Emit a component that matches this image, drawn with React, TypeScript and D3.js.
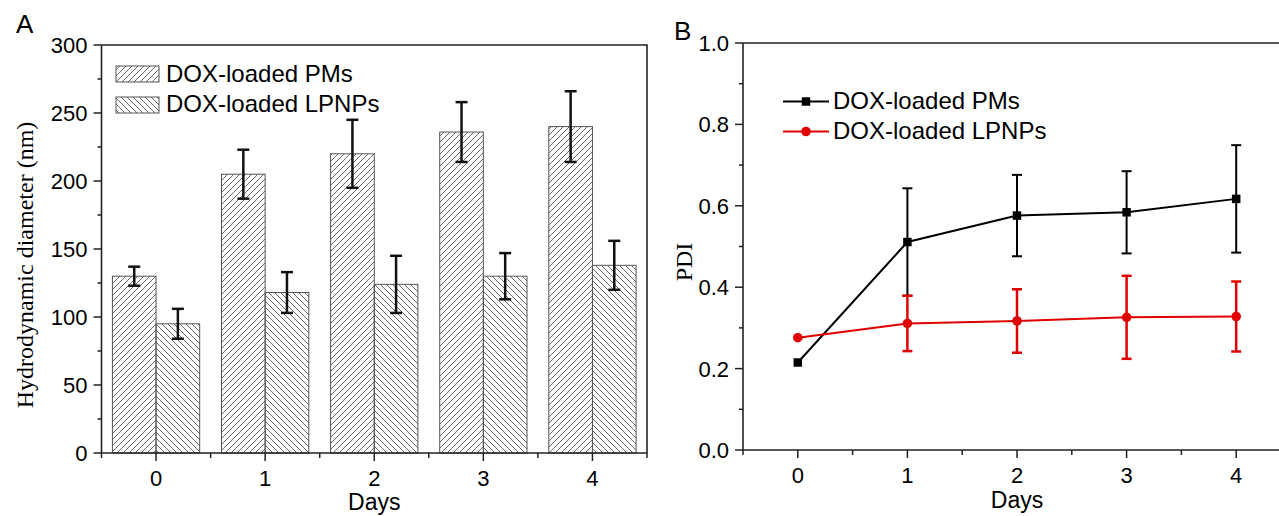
import React, { useEffect, useRef } from "react";
import * as d3 from "d3";

// data
const days = [0, 1, 2, 3, 4];
const pmSize = [130, 205, 220, 236, 240];
const pmSizeErr = [7, 18, 25, 22, 26];
const lpnpSize = [95, 118, 124, 130, 138];
const lpnpSizeErr = [11, 15, 21, 17, 18];

const pmPdi = [0.215, 0.511, 0.576, 0.584, 0.617];
const pmPdiErr = [0, 0.132, 0.1, 0.101, 0.132];
const lpnpPdi = [0.276, 0.311, 0.317, 0.326, 0.328];
const lpnpPdiErr = [0, 0.068, 0.078, 0.102, 0.086];

const seriesNames = ["DOX-loaded PMs", "DOX-loaded LPNPs"];
const sizeTicks = [0, 50, 100, 150, 200, 250, 300];
const pdiTicks = [0, 0.2, 0.4, 0.6, 0.8, 1.0];

const W = 1279,
  H = 516;
const SANS = "'Liberation Sans', Arial, sans-serif";
const SERIF = "'Liberation Serif', 'Times New Roman', serif";
const AXIS = "#222";

function drawAxes(svg, x, y, yMajor, yMinor, fmt, rightEdge) {
  const [x0] = x.range();
  const [y0, y1] = y.range();
  const g = svg.append("g");

  // frame
  g.append("path")
    .attr("d", `M${x0},${y1} L${x0},${y0} L${rightEdge},${y0} M${x0},${y1} L${rightEdge},${y1} L${rightEdge},${y0}`)
    .attr("fill", "none")
    .attr("stroke", AXIS)
    .attr("stroke-width", 1.6);

  // y ticks
  g.selectAll(".ymaj")
    .data(yMajor)
    .join("line")
    .attr("x1", x0 - 8)
    .attr("x2", x0)
    .attr("y1", (d) => y(d))
    .attr("y2", (d) => y(d))
    .attr("stroke", AXIS)
    .attr("stroke-width", 1.5);
  g.selectAll(".ymin")
    .data(yMinor)
    .join("line")
    .attr("x1", x0 - 4)
    .attr("x2", x0)
    .attr("y1", (d) => y(d))
    .attr("y2", (d) => y(d))
    .attr("stroke", AXIS)
    .attr("stroke-width", 1.5);
  g.selectAll(".ylab")
    .data(yMajor)
    .join("text")
    .attr("x", x0 - 14)
    .attr("y", (d) => y(d))
    .attr("dy", "0.36em")
    .attr("text-anchor", "end")
    .style("font-family", SANS)
    .style("font-size", "22px")
    .text(fmt);

  // x ticks
  const xMinor = [-0.5, 0.5, 1.5, 2.5, 3.5, 4.5];
  g.selectAll(".xmaj")
    .data(days)
    .join("line")
    .attr("x1", (d) => x(d))
    .attr("x2", (d) => x(d))
    .attr("y1", y0)
    .attr("y2", y0 + 8)
    .attr("stroke", AXIS)
    .attr("stroke-width", 1.5);
  g.selectAll(".xmin")
    .data(xMinor.filter((d) => x(d) <= W))
    .join("line")
    .attr("x1", (d) => x(d))
    .attr("x2", (d) => x(d))
    .attr("y1", y0)
    .attr("y2", y0 + 5)
    .attr("stroke", AXIS)
    .attr("stroke-width", 1.5);
  g.selectAll(".xlab")
    .data(days)
    .join("text")
    .attr("x", (d) => x(d))
    .attr("y", y0 + 33)
    .attr("text-anchor", "middle")
    .style("font-family", SANS)
    .style("font-size", "22px")
    .text((d) => d);
}

export default function App() {
  const ref = useRef(null);

  useEffect(() => {
    const svg = d3.select(ref.current);
    svg.selectAll("*").remove();

    // hatch patterns
    const defs = svg.append("defs");
    defs
      .append("pattern")
      .attr("id", "hatchFwd")
      .attr("patternUnits", "userSpaceOnUse")
      .attr("width", 6)
      .attr("height", 6)
      .append("path")
      .attr("d", "M-1,1 l2,-2 M0,6 l6,-6 M5,7 l2,-2")
      .attr("stroke", "#444")
      .attr("stroke-width", 0.8);
    defs
      .append("pattern")
      .attr("id", "hatchBack")
      .attr("patternUnits", "userSpaceOnUse")
      .attr("width", 6)
      .attr("height", 6)
      .append("path")
      .attr("d", "M-1,5 l2,2 M0,0 l6,6 M5,-1 l2,2")
      .attr("stroke", "#444")
      .attr("stroke-width", 0.8);

    // ---------- Panel A ----------
    const xA = d3.scaleLinear().domain([-0.5, 4.5]).range([101.5, 647]);
    const yA = d3.scaleLinear().domain([0, 300]).range([453, 45]);
    const bw = xA(0.4) - xA(0);

    const bars = svg.append("g");
    const groups = [
      { vals: pmSize, errs: pmSizeErr, off: -0.4, fill: "url(#hatchFwd)" },
      { vals: lpnpSize, errs: lpnpSizeErr, off: 0, fill: "url(#hatchBack)" },
    ];
    groups.forEach((s) => {
      bars
        .selectAll(null)
        .data(days)
        .join("rect")
        .attr("x", (d) => xA(d + s.off))
        .attr("y", (d, i) => yA(s.vals[i]))
        .attr("width", bw)
        .attr("height", (d, i) => yA(0) - yA(s.vals[i]))
        .attr("fill", s.fill)
        .attr("stroke", "#555")
        .attr("stroke-width", 1);
    });
    groups.forEach((s) => {
      const eg = bars.selectAll(null).data(days).join("g");
      const cx = (d) => xA(d + s.off + 0.2);
      eg.append("line")
        .attr("x1", cx)
        .attr("x2", cx)
        .attr("y1", (d, i) => yA(s.vals[i] + s.errs[i]))
        .attr("y2", (d, i) => yA(s.vals[i] - s.errs[i]))
        .attr("stroke", "#111")
        .attr("stroke-width", 2.5);
      [1, -1].forEach((sg) => {
        eg.append("line")
          .attr("x1", (d) => cx(d) - 6)
          .attr("x2", (d) => cx(d) + 6)
          .attr("y1", (d, i) => yA(s.vals[i] + sg * s.errs[i]))
          .attr("y2", (d, i) => yA(s.vals[i] + sg * s.errs[i]))
          .attr("stroke", "#111")
          .attr("stroke-width", 2.5);
      });
    });

    drawAxes(svg, xA, yA, sizeTicks, [25, 75, 125, 175, 225, 275], (d) => d, 647);

    // legend A
    const legA = svg.append("g");
    ["url(#hatchFwd)", "url(#hatchBack)"].forEach((f, i) => {
      legA
        .append("rect")
        .attr("x", 116)
        .attr("y", 66 + i * 31)
        .attr("width", 43)
        .attr("height", 16)
        .attr("fill", f)
        .attr("stroke", "#555");
      legA
        .append("text")
        .attr("x", 166)
        .attr("y", 82 + i * 30)
        .style("font-family", SANS)
        .style("font-size", "24px")
        .text(seriesNames[i]);
    });

    svg
      .append("text")
      .attr("transform", `translate(33,265) rotate(-90)`)
      .attr("text-anchor", "middle")
      .style("font-family", SERIF)
      .style("font-size", "24px")
      .text("Hydrodynamic diameter (nm)");
    svg
      .append("text")
      .attr("x", (xA(0) + xA(4)) / 2)
      .attr("y", 510)
      .attr("text-anchor", "middle")
      .style("font-family", SANS)
      .style("font-size", "23px")
      .text("Days");
    svg
      .append("text")
      .attr("x", 16)
      .attr("y", 33)
      .style("font-family", SANS)
      .style("font-size", "26px")
      .text("A");

    // ---------- Panel B ----------
    const xB = d3.scaleLinear().domain([-0.5, 4.5]).range([743, 1291]);
    const yB = d3.scaleLinear().domain([0, 1]).range([450, 43]);

    drawAxes(svg, xB, yB, pdiTicks, [0.1, 0.3, 0.5, 0.7, 0.9], (d) => d.toFixed(1), 1291);

    const lineGen = d3
      .line()
      .x((d, i) => xB(days[i]))
      .y((d) => yB(d));

    const series = [
      { vals: pmPdi, errs: pmPdiErr, color: "#000", shape: "square", ew: 2 },
      { vals: lpnpPdi, errs: lpnpPdiErr, color: "#e00000", shape: "circle", ew: 2.5 },
    ];
    const plot = svg.append("g");
    series.forEach((s) => {
      const eg = plot.append("g");
      days.forEach((d, i) => {
        if (!s.errs[i]) return;
        const cx = xB(d);
        eg.append("line")
          .attr("x1", cx)
          .attr("x2", cx)
          .attr("y1", yB(s.vals[i] + s.errs[i]))
          .attr("y2", yB(s.vals[i] - s.errs[i]))
          .attr("stroke", s.color)
          .attr("stroke-width", s.ew);
        [1, -1].forEach((sg) => {
          eg.append("line")
            .attr("x1", cx - 5)
            .attr("x2", cx + 5)
            .attr("y1", yB(s.vals[i] + sg * s.errs[i]))
            .attr("y2", yB(s.vals[i] + sg * s.errs[i]))
            .attr("stroke", s.color)
            .attr("stroke-width", s.ew);
        });
      });
      plot
        .append("path")
        .attr("d", lineGen(s.vals))
        .attr("fill", "none")
        .attr("stroke", s.color)
        .attr("stroke-width", 2);
      const sym = d3
        .symbol()
        .type(s.shape === "square" ? d3.symbolSquare : d3.symbolCircle)
        .size(72);
      plot
        .selectAll(null)
        .data(s.vals)
        .join("path")
        .attr("transform", (d, i) => `translate(${xB(days[i])},${yB(d)})`)
        .attr("d", sym())
        .attr("fill", s.color);
    });

    // legend B
    const legB = svg.append("g");
    series.forEach((s, i) => {
      const ly = 101.5 + i * 30;
      legB
        .append("line")
        .attr("x1", 783)
        .attr("x2", 829)
        .attr("y1", ly)
        .attr("y2", ly)
        .attr("stroke", s.color)
        .attr("stroke-width", 2);
      legB
        .append("path")
        .attr("transform", `translate(806,${ly})`)
        .attr("d", d3.symbol().type(s.shape === "square" ? d3.symbolSquare : d3.symbolCircle).size(72)())
        .attr("fill", s.color);
      legB
        .append("text")
        .attr("x", 833)
        .attr("y", 108.5 + i * 30)
        .style("font-family", SANS)
        .style("font-size", "24px")
        .text(seriesNames[i]);
    });

    svg
      .append("text")
      .attr("transform", `translate(692,262) rotate(-90)`)
      .attr("text-anchor", "middle")
      .style("font-family", SERIF)
      .style("font-size", "24px")
      .text("PDI");
    svg
      .append("text")
      .attr("x", (xB(0) + xB(4)) / 2)
      .attr("y", 508)
      .attr("text-anchor", "middle")
      .style("font-family", SANS)
      .style("font-size", "23px")
      .text("Days");
    svg
      .append("text")
      .attr("x", 674)
      .attr("y", 40)
      .style("font-family", SANS)
      .style("font-size", "26px")
      .text("B");
  }, []);

  return (
    <svg
      ref={ref}
      width={W}
      height={H}
      style={{ position: "absolute", left: 0, top: 0, background: "#fff" }}
    />
  );
}
